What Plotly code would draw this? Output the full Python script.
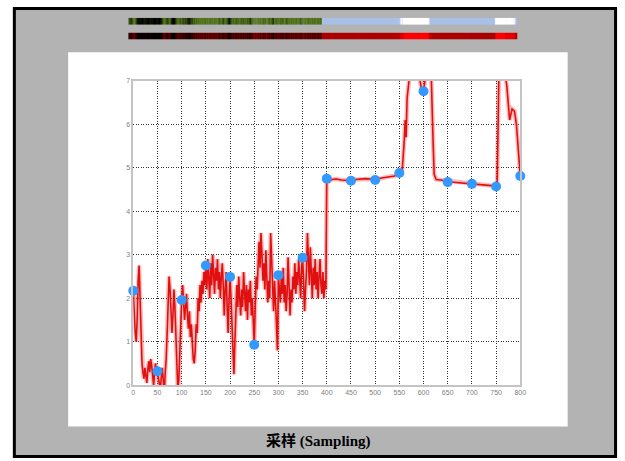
import plotly.graph_objects as go

# ---------------- data ----------------
# noisy part of the signal, samples 0,2,4,...,398
noisy_values = [
    2.17, 1.6, 1.2, 1.0, 1.5, 2.4, 2.75, 2.0, 1.1, 0.5,
    0.3, 0.15, 0.4, 0.2, 0.05, 0.35, 0.55, 0.3, 0.6, 0.45,
    0.2, 0.0, 0.3, 0.5, 0.25, 0.32, 0.15, 0.0, -0.1, 0.2,
    0.4, 0.1, -0.2, 0.3, 0.6, 1.2, 2.0, 2.5, 2.2, 1.5,
    1.2, 1.6, 2.2, 1.8, 0.9, 0.2, -0.1, 0.1, 0.8, 1.5,
    1.96, 2.3, 2.0, 1.5, 1.8, 2.1, 1.6, 1.3, 1.7, 1.1,
    1.4, 0.9, 0.6, 0.5, 0.8, 1.4, 1.2, 2.0, 1.7, 2.3,
    1.9, 2.4, 2.1, 2.6, 2.3, 2.75, 2.2, 2.9, 2.4, 2.0,
    2.8, 2.3, 3.0, 2.5, 2.1, 2.7, 2.4, 2.9, 2.2, 2.6,
    2.0, 2.5, 2.8, 2.3, 1.6, 2.2, 2.6, 1.8, 1.2, 2.0,
    2.49, 2.0, 1.5, 0.8, 0.25, 1.0, 1.7, 2.3, 1.8, 2.5,
    2.0, 1.6, 2.2, 1.8, 2.6, 2.1, 1.7, 2.3, 1.5, 2.2,
    1.9, 2.4, 1.6, 2.0, 1.4, 0.93, 1.8, 2.5, 2.2, 2.9,
    3.3, 2.7, 3.5, 3.0, 2.4, 2.8, 2.2, 3.1, 2.6, 1.9,
    2.4, 2.0, 3.5, 2.8, 2.2, 1.7, 2.4, 2.0, 1.4, 0.8,
    2.53, 2.2, 1.9, 2.5, 2.1, 2.7, 1.9, 2.3, 1.7, 2.1,
    2.94, 2.3, 1.6, 2.2, 1.9, 2.5, 2.2, 2.8, 2.1, 2.6,
    2.3, 2.9, 2.4, 2.0, 2.7, 2.93, 2.4, 1.7, 2.2, 2.6,
    3.5, 2.8, 2.3, 3.17, 2.5, 2.0, 2.7, 2.3, 2.9, 2.2,
    2.6, 2.0, 2.5, 2.9, 2.3, 2.1, 2.6, 2.0, 2.4, 2.2,
]
noisy_x = list(range(0, 400, 2))

# level part of the signal, samples 400..800
level_x = [400, 404, 410, 420, 430, 440, 450, 460, 470, 480, 490, 500, 510, 520,
           530, 540, 550, 556, 560, 562, 564, 566, 570, 574, 580, 586, 592, 596,
           600, 604, 610, 616, 620, 622, 626, 636, 650, 660, 670, 680, 690, 700,
           710, 720, 730, 740, 746, 750, 752, 754, 756, 762, 768, 772, 775, 778,
           780, 783, 788, 792, 796, 800]
level_y = [4.75, 4.68, 4.73, 4.74, 4.72, 4.71, 4.70, 4.73, 4.74, 4.75, 4.74, 4.72, 4.76, 4.78,
           4.80, 4.81, 4.88, 4.95, 5.6, 6.1, 5.7, 6.6, 7.0, 7.3, 7.4, 7.3, 7.05, 6.8,
           6.76, 7.1, 7.3, 7.1, 5.5, 4.85, 4.73, 4.72, 4.68, 4.67, 4.66, 4.65, 4.64, 4.63,
           4.62, 4.61, 4.60, 4.59, 4.55, 4.57, 4.5, 6.0, 7.3, 7.4, 7.2, 6.9, 6.5, 6.1,
           6.2, 6.35, 6.3, 6.0, 5.4, 4.81]

# sampled points (every 50 samples)
samp_x = [0, 50, 100, 150, 200, 250, 300, 350, 400, 450, 500, 550, 600, 650, 700, 750, 800]
samp_y = [2.17, 0.32, 1.96, 2.75, 2.49, 0.93, 2.53, 2.93, 4.75, 4.70, 4.72, 4.88, 6.76,
          4.67, 4.63, 4.57, 4.81]

x_ticks = list(range(0, 801, 50))
y_ticks = list(range(0, 8))
caption = "<b>采样 (Sampling)</b>"

sig_x = noisy_x + level_x
sig_y = noisy_values + level_y

# ---------------- figure ----------------
W, H = 625, 461
def px(x):
    return x / W
def py(y):
    return (H - y) / H

fig = go.Figure()

# colour strips
top_scale = [
    [0.0, "#000000"], [0.07, "#121808"], [0.17, "#2e4012"], [0.29, "#4a6a1a"],
    [0.40, "#5e7e28"], [0.50, "#6e7a5a"], [0.57, "#a8c0e8"], [0.70, "#a8c0e8"],
    [0.88, "#ffffff"], [1.0, "#ffffff"],
]
bot_scale = [[0.0, "#000000"], [1.0, "#ff0000"]]

fig.add_trace(go.Heatmap(x=sig_x, z=[sig_y], zmin=0, zmax=7, colorscale=top_scale,
                         showscale=False, xaxis="x2", yaxis="y2", hoverinfo="skip"))
fig.add_trace(go.Heatmap(x=sig_x, z=[sig_y], zmin=0, zmax=7, colorscale=bot_scale,
                         showscale=False, xaxis="x2", yaxis="y3", hoverinfo="skip"))

# signal: halo + line
fig.add_trace(go.Scatter(x=sig_x, y=sig_y, mode="lines",
                         line=dict(color="rgba(255,60,60,0.35)", width=4.5),
                         hoverinfo="skip", showlegend=False))
fig.add_trace(go.Scatter(x=sig_x, y=sig_y, mode="lines",
                         line=dict(color="#e01010", width=1.6),
                         showlegend=False))
# sample dots
fig.add_trace(go.Scatter(x=samp_x, y=samp_y, mode="markers",
                         marker=dict(color="#3399ff", size=10, line=dict(width=0)),
                         cliponaxis=False, showlegend=False))

shapes = [
    dict(type="rect", xref="paper", yref="paper",
         x0=px(12.5), x1=px(621.5), y0=py(459.5), y1=py(4.5),
         fillcolor="#b3b3b3", line=dict(color="#000000", width=3), layer="below"),
    dict(type="rect", xref="paper", yref="paper",
         x0=px(67), x1=px(573), y0=py(429), y1=py(49),
         fillcolor="#ffffff", line=dict(width=0), layer="below"),
]

fig.update_layout(
    width=W, height=H,
    margin=dict(l=0, r=0, t=0, b=0),
    paper_bgcolor="#ffffff", plot_bgcolor="rgba(0,0,0,0)",
    showlegend=False,
    shapes=shapes,
    xaxis=dict(domain=[px(133), px(525)], range=[0, 800],
               tickmode="array", tickvals=x_ticks, ticktext=[str(v) for v in x_ticks],
               showgrid=True, gridcolor="#303030", griddash="1px,1.5px", gridwidth=1,
               zeroline=False, showline=True, linecolor="#c4c4c4", linewidth=1.5, mirror=True,
               ticks="", tickfont=dict(size=7, color="#808080", family="Liberation Sans"),
               anchor="y"),
    yaxis=dict(domain=[py(387), py(78)], range=[0, 7],
               tickmode="array", tickvals=y_ticks, ticktext=[str(v) for v in y_ticks],
               showgrid=True, gridcolor="#303030", griddash="1px,1.5px", gridwidth=1,
               zeroline=False, showline=True, linecolor="#c4c4c4", linewidth=1.5, mirror=True,
               ticks="", tickfont=dict(size=7, color="#808080", family="Liberation Sans"),
               anchor="x"),
    xaxis2=dict(domain=[px(128), px(522)], range=[0, 800], visible=False, anchor="y2"),
    yaxis2=dict(domain=[py(21), py(14)], visible=False, anchor="x2"),
    yaxis3=dict(domain=[py(36), py(29)], visible=False, anchor="x2"),
    annotations=[dict(x=px(321), y=py(444), xref="paper", yref="paper",
                      text=caption, showarrow=False,
                      font=dict(size=15, color="#000000",
                                family="Liberation Serif, Noto Sans CJK SC"),
                      xanchor="center", yanchor="middle")],
)

fig.write_html("out.html", config={"displayModeBar": False},
               post_script="document.body.style.margin='0';document.body.style.overflow='hidden';")
